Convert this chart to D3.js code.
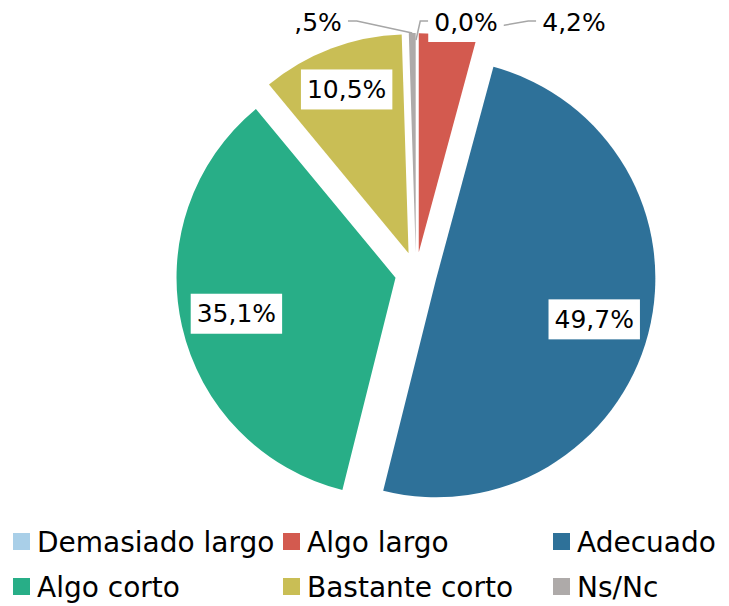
<!DOCTYPE html>
<html>
<head>
<meta charset="utf-8">
<script src="https://cdn.jsdelivr.net/npm/d3@7"></script>
<style>
  body { margin: 0; background: #fff; }
  svg text { font-family: "DejaVu Sans", sans-serif; fill: #000; }
</style>
</head>
<body>
<div class="container"></div>
<script>
(function () {

    //chart data
    var categories = ["Demasiado largo", "Algo largo", "Adecuado", "Algo corto", "Bastante corto", "Ns/Nc"];
    var values = [0.0, 4.2, 49.7, 35.1, 10.5, 0.5];
    var valueLabels = ["0,0%", "4,2%", "49,7%", "35,1%", "10,5%", ",5%"];
    var colors = ["#a9cfe8", "#d35a4f", "#2e7199", "#28ae87", "#c9be55", "#aeaaa9"];

    var width = 729,
        height = 606,
        cx = 416,
        cy = 273,
        radius = 219,
        explode = 21;

    var svg = d3.select(".container")
        .append("svg")
        .attr("width", width)
        .attr("height", height);

    var pie = d3.pie().sort(null).value(function (d) { return d; });
    var arcs = pie(values);
    var arc = d3.arc().innerRadius(0).outerRadius(radius);

    function mid(d) { return (d.startAngle + d.endAngle) / 2; }
    //point along angle a at distance r
    function polar(a, r) { return [Math.sin(a) * r, -Math.cos(a) * r]; }
    function offset(d) { return polar(mid(d), explode); }

    //slices
    svg.append("g")
        .selectAll("path")
        .data(arcs)
        .enter()
        .append("path")
        .attr("transform", function (d) {
            var o = offset(d);
            return "translate(" + (cx + o[0]) + "," + (cy + o[1]) + ")";
        })
        .attr("d", arc)
        .style("fill", function (d, i) { return colors[i]; });

    //outside labels for the tiny slices (positions relative to pie center)
    var outside = { 0: [50, -251], 1: [158, -251], 5: [-98, -251] };

    var leaders = svg.append("g");
    var labels = svg.append("g");

    arcs.forEach(function (d, i) {
        var o = offset(d);
        var g = labels.append("g");
        var text, lx, ly;
        if (outside[i]) {
            lx = cx + outside[i][0];
            ly = cy + outside[i][1];
        } else {
            var r = d.value > 20 ? radius * 0.745 : radius * 0.8;
            var p = polar(mid(d), r);
            lx = cx + o[0] + p[0];
            ly = cy + o[1] + p[1];
        }
        var rect = g.append("rect").style("fill", "#fff");
        text = g.append("text")
            .attr("x", lx)
            .attr("y", ly)
            .attr("text-anchor", "middle")
            .attr("dominant-baseline", "central")
            .style("font-size", "25px")
            .text(valueLabels[i]);
        var bb = text.node().getBBox();
        rect.attr("x", bb.x - 6)
            .attr("y", ly - 20)
            .attr("width", bb.width + 12)
            .attr("height", 40);

        if (outside[i]) {
            //leader line from slice edge to label
            var edgeR = d.value === 0 ? radius - 7 : radius;
            var e = polar(mid(d), edgeR);
            var sx = cx + o[0] + e[0],
                sy = cy + o[1] + e[1];
            var pts;
            if (lx < sx) {
                var right = bb.x + bb.width + 6;
                pts = [[sx, sy], [right + 9, ly - 1], [right, ly - 1]];
            } else {
                var left = bb.x - 6;
                pts = [[sx, sy], [left - 8, ly - 1], [left, ly - 1]];
            }
            leaders.append("path")
                .attr("d", d3.line()(pts))
                .style("fill", "none")
                .style("stroke", "#a6a6a6")
                .style("stroke-width", 1.5);
        }
    });

    //legend
    var legend = svg.append("g")
        .selectAll("g")
        .data(categories)
        .enter()
        .append("g")
        .attr("transform", function (d, i) {
            return "translate(" + (13 + (i % 3) * 270) + "," + (533 + Math.floor(i / 3) * 45) + ")";
        });

    legend.append("rect")
        .attr("width", 17)
        .attr("height", 17)
        .style("fill", function (d, i) { return colors[i]; });

    legend.append("text")
        .attr("x", 24)
        .attr("y", 9)
        .attr("dominant-baseline", "central")
        .style("font-size", "28px")
        .text(function (d) { return d; });

})();
</script>
</body>
</html>
